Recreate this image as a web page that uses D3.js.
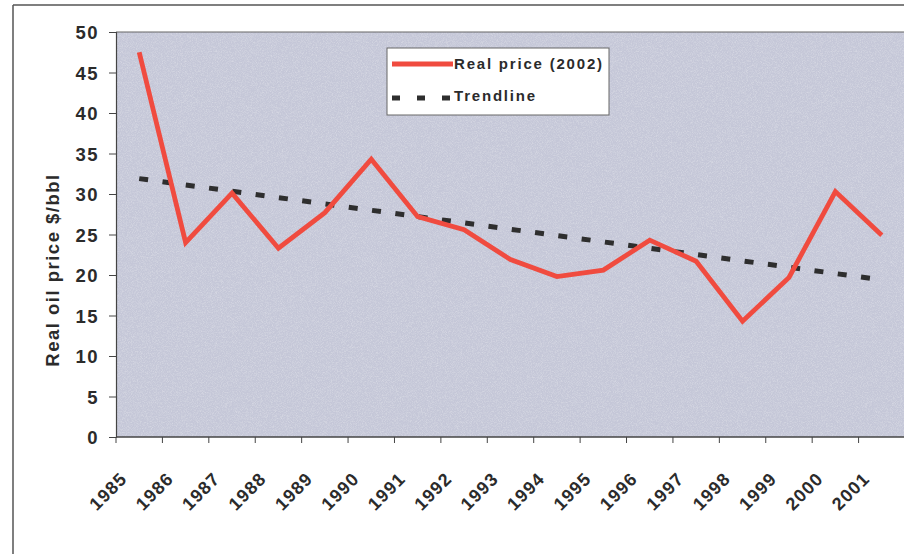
<!DOCTYPE html>
<html>
<head>
<meta charset="utf-8">
<script src="https://cdn.jsdelivr.net/npm/d3@7"></script>
<style>
  html, body { margin: 0; padding: 0; background: #fff; }
  svg { display: block; }
  text { font-family: "Liberation Sans", Arial, sans-serif; font-weight: bold; fill: #2b2b2b; }
</style>
</head>
<body>
<svg id="chart" width="904" height="554"></svg>
<script>
const years = ["1985","1986","1987","1988","1989","1990","1991","1992","1993","1994","1995","1996","1997","1998","1999","2000","2001"];
const realPrice = [47.5, 24.0, 30.1, 23.3, 27.7, 34.3, 27.2, 25.6, 21.9, 19.8, 20.6, 24.3, 21.7, 14.3, 19.7, 30.3, 24.9];
const trendYears = ["1985", "2001"];
const trendValues = [31.9, 19.4];
const yTicks = [0, 5, 10, 15, 20, 25, 30, 35, 40, 45, 50];
const seriesNames = ["Real price (2002)", "Trendline"];
const yTitle = "Real oil price $/bbl";

const svg = d3.select("#chart");
const plot = { left: 116, right: 905, top: 32, bottom: 437 };

const x = d3.scaleBand().domain(years).range([plot.left, plot.right]);
const y = d3.scaleLinear().domain([0, 50]).range([plot.bottom, plot.top]);

// noise filter for plot texture
const defs = svg.append("defs");
const f = defs.append("filter").attr("id", "noise").attr("x", 0).attr("y", 0).attr("width", 1).attr("height", 1);
f.append("feTurbulence").attr("type", "fractalNoise").attr("baseFrequency", 1.2).attr("numOctaves", 2).attr("seed", 3).attr("result", "n");
f.append("feColorMatrix").attr("in", "n").attr("type", "matrix")
  .attr("values", "0 0 0 0 1  0 0 0 0 1  0 0 0 0 1  0 0 0 0.55 -0.22").attr("result", "w");
f.append("feComposite").attr("in", "w").attr("in2", "SourceGraphic").attr("operator", "in").attr("result", "wc");
f.append("feMerge").selectAll("feMergeNode").data(["SourceGraphic", "wc"]).join("feMergeNode").attr("in", d => d);

// outer frame
svg.append("line").attr("x1", 13).attr("x2", 13).attr("y1", 5).attr("y2", 554).attr("stroke", "#555").attr("stroke-width", 1.5);
svg.append("line").attr("x1", 13).attr("x2", 904).attr("y1", 5).attr("y2", 5).attr("stroke", "#555").attr("stroke-width", 1.5);

// plot background
svg.append("rect")
  .attr("x", plot.left).attr("y", plot.top)
  .attr("width", plot.right - plot.left).attr("height", plot.bottom - plot.top)
  .attr("fill", "#c5c7d8").attr("filter", "url(#noise)");
svg.append("line").attr("x1", plot.left).attr("x2", plot.right).attr("y1", plot.top).attr("y2", plot.top)
  .attr("stroke", "#666").attr("stroke-width", 1.2);

// y axis
const yAxis = d3.axisLeft(y).tickValues(yTicks).tickSize(7).tickPadding(0).tickFormat(d3.format("d"));
const yg = svg.append("g").attr("transform", `translate(${plot.left},0)`).call(yAxis);
yg.select(".domain").attr("stroke", "#444").attr("stroke-width", 1.2);
yg.selectAll(".tick line").attr("stroke", "#444");
yg.selectAll(".tick text")
  .attr("x", -17).attr("dy", "0.36em")
  .style("font-size", "18.5px").style("letter-spacing", "1.5px")
  .style("font-family", "'Liberation Sans', Arial, sans-serif").style("font-weight", "bold").attr("fill", "#2b2b2b");

// x axis with ticks at band boundaries
const xg = svg.append("g").attr("transform", `translate(0,${plot.bottom})`);
xg.append("line").attr("x1", plot.left).attr("x2", plot.right).attr("stroke", "#444").attr("stroke-width", 1.5);
const boundaries = years.map(d => x(d)).concat([x(years[years.length - 1]) + x.bandwidth()]);
xg.selectAll("line.tk").data(boundaries).join("line").attr("class", "tk")
  .attr("x1", d => d).attr("x2", d => d).attr("y1", 0).attr("y2", 6).attr("stroke", "#444");
xg.selectAll("text.yl").data(years).join("text").attr("class", "yl")
  .attr("transform", d => `translate(${x(d) + x.bandwidth() / 2 - 11},43) rotate(-45)`)
  .attr("text-anchor", "end")
  .style("font-size", "18px").style("letter-spacing", "1.1px")
  .text(d => d);

// y title
svg.append("text")
  .attr("transform", `translate(59,270) rotate(-90)`)
  .attr("text-anchor", "middle")
  .style("font-size", "18.5px").style("letter-spacing", "1.5px")
  .text(yTitle);

// trendline
const line = d3.line().x(d => x(d[0]) + x.bandwidth() / 2).y(d => y(d[1]));
svg.append("path")
  .datum(trendYears.map((d, i) => [d, trendValues[i]]))
  .attr("d", line).attr("fill", "none")
  .attr("stroke", "#2e2e2e").attr("stroke-width", 5).attr("stroke-dasharray", "9,14.5");

// real price line
svg.append("path")
  .datum(years.map((d, i) => [d, realPrice[i]]))
  .attr("d", line).attr("fill", "none")
  .attr("stroke", "#f04b3f").attr("stroke-width", 4.8).attr("stroke-linejoin", "miter");

// legend
const lg = svg.append("g");
lg.append("rect").attr("x", 387).attr("y", 48).attr("width", 222).attr("height", 67)
  .attr("fill", "#fff").attr("stroke", "#666").attr("stroke-width", 1);
lg.append("line").attr("x1", 392).attr("x2", 453).attr("y1", 64).attr("y2", 64)
  .attr("stroke", "#f04b3f").attr("stroke-width", 5);
lg.append("line").attr("x1", 392).attr("x2", 453).attr("y1", 98).attr("y2", 98)
  .attr("stroke", "#2e2e2e").attr("stroke-width", 5).attr("stroke-dasharray", "8,17");
lg.selectAll("text").data(seriesNames).join("text")
  .attr("x", 454).attr("y", (d, i) => 69 + i * 32)
  .style("font-size", "15px").style("letter-spacing", "1.8px")
  .text(d => d);
</script>
</body>
</html>
